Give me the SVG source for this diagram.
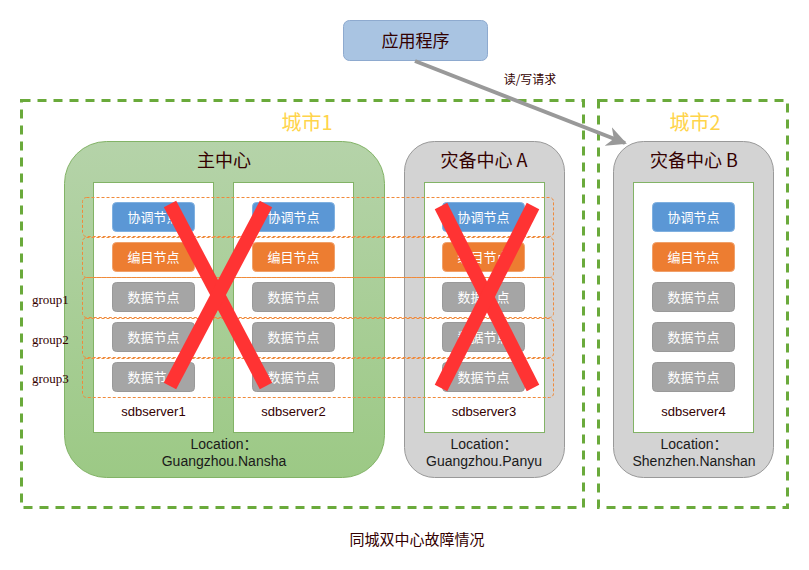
<svg xmlns="http://www.w3.org/2000/svg" width="809" height="570" viewBox="0 0 809 570">
<defs>
  <linearGradient id="gMain" x1="0" y1="0" x2="0" y2="1">
    <stop offset="0" stop-color="#b5d3a9"/>
    <stop offset="1" stop-color="#9cc985"/>
  </linearGradient>
  <marker id="arr" viewBox="0 0 10 10" refX="9" refY="5" markerWidth="5" markerHeight="5" orient="auto" markerUnits="strokeWidth">
    <path d="M0,0 L10,5 L0,10 L3,5 Z" fill="#999999"/>
  </marker>
  <style>
    .city{fill:none;stroke:#6aaa3b;stroke-width:3;stroke-dasharray:9,7}
    .cityT{font-family:"Noto Sans CJK SC","Noto Sans",sans-serif;font-size:20px;fill:#ffd44a;text-anchor:middle}
    .ctrT{font-family:"Noto Sans CJK SC","Noto Sans",sans-serif;font-size:18px;fill:#330000;text-anchor:middle}
    .srv{fill:#ffffff;stroke:#82b366;stroke-width:1}
    .node{stroke-width:1}
    .coord{fill:#5b97d5;stroke:#7fb0e0}
    .edit{fill:#ed7d31;stroke:#f0a06a}
    .data{fill:#a5a5a5;stroke:#999999}
    .nT{font-family:"Noto Sans CJK SC","Noto Sans",sans-serif;font-size:13px;fill:#ffffff;text-anchor:middle}
    .sT{font-family:"Liberation Sans","Noto Sans CJK SC",sans-serif;font-size:13px;fill:#330000;text-anchor:middle}
    .lT{font-family:"Liberation Sans","Noto Sans CJK SC",sans-serif;font-size:14px;fill:#1a1a1a;text-anchor:middle}
    .grp{fill:none;stroke:#f08a3a;stroke-width:1;stroke-dasharray:3,2}
    .gT{font-family:"Liberation Serif",serif;font-size:13px;fill:#330000}
    .x{stroke:#ff3333;stroke-width:14;stroke-linecap:butt}
  </style>
</defs>

<g id="city1">
  <rect class="city" x="21.5" y="100.5" width="562" height="407"/>
  <text class="cityT" x="307" y="130">城市1</text>
</g>
<g id="city2">
  <rect class="city" x="598.5" y="100.5" width="189" height="407"/>
  <text class="cityT" x="695" y="130">城市2</text>
</g>

<g id="app">
  <rect x="343.5" y="20.5" width="144" height="40" rx="6" fill="#a9c4e2" stroke="#8eaacf"/>
  <text class="ctrT" x="415.5" y="47" style="font-size:17px">应用程序</text>
</g>

<g id="main-center">
  <rect x="64.5" y="141.5" width="320" height="336" rx="42" fill="url(#gMain)" stroke="#82b366"/>
  <text class="ctrT" x="224" y="167">主中心</text>
  <text class="lT" x="224" y="449">Location：</text>
  <text class="lT" x="224" y="466">Guangzhou.Nansha</text>
</g>
<g id="dr-center-a">
  <rect x="404.5" y="141.5" width="160" height="336" rx="30" fill="#d3d3d3" stroke="#999999"/>
  <text class="ctrT" x="484" y="167">灾备中心 A</text>
  <text class="lT" x="484" y="449">Location：</text>
  <text class="lT" x="484" y="466">Guangzhou.Panyu</text>
</g>
<g id="dr-center-b">
  <rect x="613.5" y="141.5" width="160" height="336" rx="30" fill="#d3d3d3" stroke="#999999"/>
  <text class="ctrT" x="694" y="167">灾备中心 B</text>
  <text class="lT" x="694" y="449">Location：</text>
  <text class="lT" x="694" y="466">Shenzhen.Nanshan</text>
</g>

<g id="sdbserver1">
  <rect class="srv" x="93.5" y="182.5" width="120" height="250"/>
  <rect class="node coord" x="112.5" y="202.5" width="82" height="29" rx="4"/><text class="nT" x="153.5" y="222">协调节点</text>
  <rect class="node edit" x="112.5" y="242.5" width="82" height="29" rx="4"/><text class="nT" x="153.5" y="262">编目节点</text>
  <rect class="node data" x="112.5" y="282.5" width="82" height="29" rx="4"/><text class="nT" x="153.5" y="302">数据节点</text>
  <rect class="node data" x="112.5" y="322.5" width="82" height="29" rx="4"/><text class="nT" x="153.5" y="342">数据节点</text>
  <rect class="node data" x="112.5" y="362.5" width="82" height="29" rx="4"/><text class="nT" x="153.5" y="382">数据节点</text>
  <text class="sT" x="153.5" y="416">sdbserver1</text>
</g>
<g id="sdbserver2">
  <rect class="srv" x="233.5" y="182.5" width="120" height="250"/>
  <rect class="node coord" x="252.5" y="202.5" width="82" height="29" rx="4"/><text class="nT" x="293.5" y="222">协调节点</text>
  <rect class="node edit" x="252.5" y="242.5" width="82" height="29" rx="4"/><text class="nT" x="293.5" y="262">编目节点</text>
  <rect class="node data" x="252.5" y="282.5" width="82" height="29" rx="4"/><text class="nT" x="293.5" y="302">数据节点</text>
  <rect class="node data" x="252.5" y="322.5" width="82" height="29" rx="4"/><text class="nT" x="293.5" y="342">数据节点</text>
  <rect class="node data" x="252.5" y="362.5" width="82" height="29" rx="4"/><text class="nT" x="293.5" y="382">数据节点</text>
  <text class="sT" x="293.5" y="416">sdbserver2</text>
</g>
<g id="sdbserver3">
  <rect class="srv" x="424.5" y="182.5" width="120" height="250"/>
  <rect class="node coord" x="442.5" y="202.5" width="82" height="29" rx="4"/><text class="nT" x="483.5" y="222">协调节点</text>
  <rect class="node edit" x="442.5" y="242.5" width="82" height="29" rx="4"/><text class="nT" x="483.5" y="262">编目节点</text>
  <rect class="node data" x="442.5" y="282.5" width="82" height="29" rx="4"/><text class="nT" x="483.5" y="302">数据节点</text>
  <rect class="node data" x="442.5" y="322.5" width="82" height="29" rx="4"/><text class="nT" x="483.5" y="342">数据节点</text>
  <rect class="node data" x="442.5" y="362.5" width="82" height="29" rx="4"/><text class="nT" x="483.5" y="382">数据节点</text>
  <text class="sT" x="484" y="416">sdbserver3</text>
</g>
<g id="sdbserver4">
  <rect class="srv" x="633.5" y="182.5" width="120" height="250"/>
  <rect class="node coord" x="652.5" y="202.5" width="82" height="29" rx="4"/><text class="nT" x="693.5" y="222">协调节点</text>
  <rect class="node edit" x="652.5" y="242.5" width="82" height="29" rx="4"/><text class="nT" x="693.5" y="262">编目节点</text>
  <rect class="node data" x="652.5" y="282.5" width="82" height="29" rx="4"/><text class="nT" x="693.5" y="302">数据节点</text>
  <rect class="node data" x="652.5" y="322.5" width="82" height="29" rx="4"/><text class="nT" x="693.5" y="342">数据节点</text>
  <rect class="node data" x="652.5" y="362.5" width="82" height="29" rx="4"/><text class="nT" x="693.5" y="382">数据节点</text>
  <text class="sT" x="693.5" y="416">sdbserver4</text>
</g>

<g id="groups">
  <rect class="grp" x="82.5" y="197.5" width="471" height="39" rx="4"/>
  <rect class="grp" x="82.5" y="237.5" width="471" height="40" rx="4"/>
  <rect class="grp" x="82.5" y="277.5" width="471" height="40" rx="4"/>
  <rect class="grp" x="82.5" y="318.5" width="471" height="39" rx="4"/>
  <rect class="grp" x="82.5" y="358.5" width="471" height="39" rx="4"/>
  <text class="gT" x="32" y="304">group1</text>
  <text class="gT" x="32" y="344">group2</text>
  <text class="gT" x="32" y="383">group3</text>
</g>

<g id="failures">
  <line class="x" x1="170" y1="204" x2="266" y2="386"/>
  <line class="x" x1="266" y1="204" x2="170" y2="386"/>
  <line class="x" x1="441" y1="206" x2="533" y2="388"/>
  <line class="x" x1="533" y1="206" x2="441" y2="388"/>
</g>

<g id="connectors">
  <line x1="415" y1="61" x2="625" y2="143" stroke="#999999" stroke-width="4" marker-end="url(#arr)"/>
  <text x="530" y="84" style="font-family:'Noto Sans CJK SC','Noto Sans',sans-serif;font-size:12px;fill:#330000;text-anchor:middle">读/写请求</text>
</g>

<text x="417" y="545" style="font-family:'Noto Sans CJK SC','Noto Sans',sans-serif;font-size:15px;fill:#330000;text-anchor:middle">同城双中心故障情况</text>
</svg>
